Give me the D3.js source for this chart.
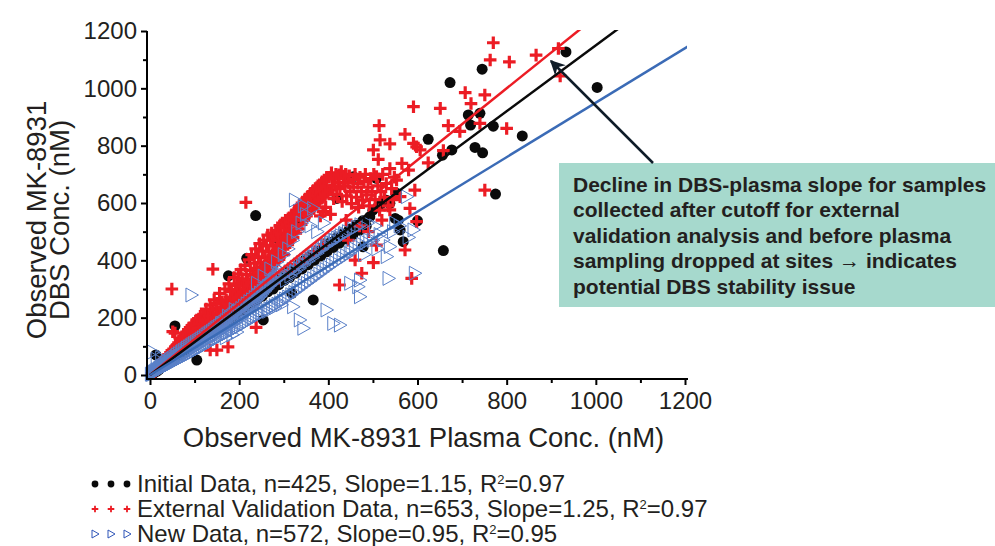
<!DOCTYPE html>
<meta charset="utf-8">
<script src="https://d3js.org/d3.v7.min.js"></script>
<style>
  body { margin: 0; background: #fff; }
  text { font-family: "Liberation Sans", Arial, sans-serif; fill: #231f20; }
</style>
<body>
<div id="chart"></div>
<script>

// observed plasma (x) vs DBS (y) concentrations, nM
var initialData = [
  [4,7],[7,5],[9,12],[11,10],[13,70],[14,18],[16,14],[18,24],[20,19],[23,30],[25,26],[27,35],[30,31],
  [32,41],[35,37],[37,46],[40,42],[43,52],[45,50],[48,60],[51,55],[53,66],[56,171],[58,62],[60,74],
  [63,68],[66,80],[69,76],[72,88],[75,82],[78,95],[82,90],[85,102],[88,96],[92,110],[95,105],[99,118],
  [105,52],[103,112],[107,128],[111,122],[115,138],[119,130],[123,148],[127,140],[131,158],[135,148],
  [140,168],[144,158],[149,178],[153,168],[158,190],[163,178],[168,200],[173,190],[176,346],[178,212],
  [183,200],[188,225],[194,212],[199,238],[205,225],[210,250],[216,238],[217,407],[222,262],[228,250],
  [234,278],[237,556],[240,262],[246,290],[252,275],[254,192],[258,305],[264,290],[270,318],[276,300],
  [282,332],[288,474],[289,315],[295,345],[301,330],[307,358],[313,340],[318,285],[320,372],[327,544],
  [327,355],[333,541],[334,388],[341,370],[348,402],[355,385],[362,418],[366,262],[369,400],[376,432],
  [383,415],[390,448],[397,430],[404,462],[411,445],[419,616],[418,478],[425,460],[432,492],[440,475],
  [447,508],[456,692],[455,490],[462,522],[470,505],[478,447],[477,538],[485,520],[493,552],[500,575],
  [508,686],[512,588],[520,600],[530,610],[538,599],[550,546],[553,634],[557,540],[561,506],[568,465],
  [600,538],[624,822],[656,767],[658,434],[673,1020],[677,785],[714,907],[719,872],[729,794],[740,913],
  [745,1067],[746,775],[770,868],[775,631],[835,834],[933,1127],[1003,1003]
];

var validationData = [
  [3,5],[6,10],[7,7],[9,14],[11,12],[12,20],[14,18],[16,25],[17,20],[19,30],[21,26],[23,38],[24,29],
  [26,42],[27,33],[29,50],[31,38],[33,55],[34,42],[36,48],[37,62],[39,45],[41,70],[43,52],[44,64],
  [46,78],[47,56],[49,85],[51,62],[53,90],[54,70],[56,75],[57,98],[59,72],[61,105],[63,80],[64,112],
  [66,86],[68,120],[70,90],[71,128],[73,95],[75,135],[77,100],[79,142],[80,108],[82,150],[84,112],
  [86,158],[88,118],[90,165],[92,125],[94,172],[96,130],[98,180],[99,138],[49,300],[51,151],[56,146],
  [101,128],[102,175],[104,150],[105,192],[107,138],[108,162],[110,180],[111,142],[113,205],[114,152],
  [116,188],[117,140],[119,168],[120,212],[122,150],[123,190],[125,160],[126,230],[128,182],[129,152],
  [131,205],[132,172],[134,165],[135,244],[137,190],[138,205],[140,160],[141,226],[143,182],[144,262],
  [146,170],[147,200],[149,232],[150,250],[152,178],[153,214],[155,200],[156,285],[158,188],[159,238],
  [161,212],[162,255],[164,195],[165,232],[167,222],[168,300],[170,205],[171,262],[173,230],[174,248],
  [176,212],[177,318],[179,240],[180,272],[182,222],[183,292],[185,250],[186,270],[188,232],[189,340],
  [191,262],[192,298],[194,240],[195,312],[197,270],[198,352],[141,369],[150,87],[175,98],[135,87],
  [200,250],[201,320],[203,282],[204,368],[206,258],[207,335],[209,290],[210,310],[212,265],[213,382],
  [215,300],[216,350],[218,275],[219,332],[221,312],[222,402],[224,285],[225,365],[227,322],[228,420],
  [230,295],[231,348],[233,335],[234,390],[236,305],[237,440],[239,345],[240,372],[242,318],[243,410],
  [245,358],[246,458],[248,328],[249,392],[251,370],[252,432],[254,340],[255,470],[257,380],[258,412],
  [260,350],[261,450],[263,392],[264,488],[266,362],[267,430],[269,405],[270,470],[272,372],[273,495],
  [275,418],[276,452],[278,385],[279,485],[281,430],[282,505],[284,398],[285,470],[287,442],[288,495],
  [290,410],[291,520],[293,455],[294,490],[296,422],[297,530],[299,468],[215,602],[238,166],
  [210,240],[230,268],[250,292],[270,315],[290,338],[310,362],[330,385],[350,405],[370,430],[390,455],
  [300,420],[301,515],[303,445],[304,540],[305,480],[307,525],[309,455],[310,545],[311,505],[313,535],
  [315,470],[316,520],[317,555],[319,545],[321,480],[322,540],[323,565],[325,560],[327,495],[328,552],
  [329,575],[331,570],[333,510],[334,560],[335,590],[337,580],[339,525],[340,575],[341,600],[343,590],
  [345,540],[346,585],[347,610],[349,600],[351,555],[352,595],[353,620],[355,610],[357,565],[358,605],
  [359,630],[361,620],[363,580],[364,615],[365,640],[367,630],[369,590],[370,625],[371,650],[373,640],
  [375,600],[376,635],[377,660],[379,650],[381,612],[382,555],[383,640],[385,670],[387,620],[388,570],
  [389,650],[391,680],[393,630],[394,585],[395,660],[397,690],[399,640],
  [402,690],[404,645],[407,705],[409,660],[412,615],[414,685],[417,700],[419,630],[422,672],[424,698],
  [426,650],[429,710],[431,605],[434,685],[437,660],[439,700],[441,625],[444,672],[447,695],[449,640],
  [452,598],[455,682],[457,655],[460,700],[463,620],[466,668],[468,585],[471,690],[474,640],[477,610],
  [480,675],[483,700],[486,628],[489,655],[492,590],[495,685],[498,640],[502,700],[505,612],[508,692],
  [511,660],[515,575],[518,640],[522,700],[526,620],[530,668],[534,590],[538,720],[542,650],[548,690],
  [553,680],[545,612],
  [425,314],[460,401],[475,355],[501,392],[508,453],[572,436],[587,337],[583,581],[594,645],[598,535],
  [538,576],[561,622],[405,560],[440,540],[470,520],[490,500],[520,540],[445,470],
  [501,785],[512,752],[514,870],[516,820],[538,806],[565,738],[572,840],[580,715],[591,936],[591,808],
  [598,796],[606,785],[624,740],[651,930],[658,783],[669,870],[695,850],[707,985],[720,947],[740,878],
  [751,977],[751,645],[763,1099],[770,1159],[800,860],[806,1092],[866,1116],[916,1139],[920,1043]
];

var newData = [
  [2,3],[4,2],[5,6],[6,4],[7,80],[8,9],[9,6],[10,12],[11,9],[12,9],[13,15],[14,11],[15,55],[16,18],
  [17,13],[18,16],[19,20],[20,15],[21,24],[22,20],[23,18],[24,28],[25,60],[26,21],[27,31],[28,26],
  [29,23],[30,34],[31,29],[32,26],[33,38],[34,31],[35,29],[36,42],[37,34],[38,31],[39,45],[40,37],
  [41,34],[42,48],[43,40],[44,36],[45,52],[46,43],[47,38],[48,55],[49,46],[50,41],[51,58],[52,49],
  [53,44],[55,62],[56,46],[57,54],[58,65],[60,49],[61,70],[62,58],[63,52],[65,74],[66,62],[67,55],
  [69,78],[70,66],[71,58],[72,82],[73,70],[74,61],[76,86],[77,72],[78,64],[80,90],[81,76],[82,67],
  [83,94],[84,80],[85,70],[87,98],[88,83],[89,73],[91,102],[92,87],[93,279],[93,76],[95,106],[96,90],
  [97,80],[99,110],
  [100,95],[101,83],[103,114],[104,98],[105,86],[107,118],[108,102],[109,90],[111,122],[112,106],
  [113,93],[115,126],[116,110],[117,96],[119,130],[120,114],[121,100],[123,135],[124,118],[125,104],
  [127,140],[128,122],[129,108],[131,144],[132,126],[133,111],[135,148],[136,130],[137,115],[139,152],
  [140,134],[141,118],[143,157],[144,138],[145,121],[147,162],[148,142],[149,125],[151,166],[152,146],
  [153,128],[155,170],[156,150],[157,132],[159,175],[160,154],[161,135],[163,180],[164,158],[165,138],
  [167,185],[168,162],[169,142],[171,190],[172,166],[173,145],[175,195],[176,170],[177,148],[179,200],
  [180,174],[181,152],[183,205],[184,178],[185,155],[187,210],[188,182],[189,158],[191,215],[192,186],
  [193,162],[195,220],[196,190],[197,165],[199,225],[160,180],[175,205],[190,228],[170,130],[185,140],
  [195,150],
  [202,170],[203,198],[205,232],[206,205],[208,176],[209,210],[211,240],[212,215],[214,181],[215,220],
  [217,248],[218,225],[220,186],[221,230],[223,256],[224,236],[226,192],[227,240],[229,262],[230,246],
  [232,197],[233,250],[235,270],[236,256],[238,203],[239,262],[241,278],[242,266],[244,208],[245,272],
  [247,286],[248,276],[250,214],[251,282],[253,292],[254,288],[256,220],[257,292],[259,300],[260,298],
  [262,225],[263,302],[265,308],[266,310],[268,231],[269,312],[271,315],[272,318],[274,236],[275,325],
  [277,322],[278,330],[280,242],[281,335],[283,330],[284,340],[286,247],[287,345],[289,338],[290,352],
  [292,252],[293,355],[295,345],[296,362],[298,258],[240,320],[255,345],[270,370],[285,395],[300,420],
  [230,200],[250,215],[265,222],[280,235],[295,245],
  [303,265],[305,330],[306,352],[310,272],[313,360],[315,345],[317,280],[321,238],[320,368],[324,288],
  [325,360],[327,376],[331,296],[334,384],[335,372],[336,192],[338,304],[341,392],[344,163],[345,312],
  [345,385],[348,400],[352,320],[355,408],[355,398],[359,328],[362,416],[365,410],[366,581],[366,336],
  [369,424],[373,344],[375,425],[376,432],[380,352],[383,440],[385,438],[387,360],[390,448],[394,368],
  [395,450],[396,227],[397,456],[401,376],[404,464],[405,460],[408,384],[411,180],[412,470],[415,470],
  [416,392],[420,478],[424,400],[425,480],[426,174],[428,486],[432,408],[435,490],[436,494],[440,416],
  [444,500],[448,424],[310,440],[320,470],[330,500],[340,530],[350,560],[325,610],[345,590],[360,520],
  [375,500],[390,530],
  [449,320],[452,432],[456,508],[460,440],[464,516],[467,308],[468,448],[471,273],[471,331],[472,524],
  [476,456],[480,420],[484,464],[488,530],[492,470],[500,470],[505,520],[510,440],[515,490],[523,471],
  [531,413],[535,337],[538,448],[545,500],[550,530],[560,520],[576,622],[580,480],[591,506],[594,355]
];

var slopes = [1.25, 1.15, 0.95];          // validation, initial, new
var xTicks = [0, 200, 400, 600, 800, 1000, 1200];
var yTicks = [0, 200, 400, 600, 800, 1000, 1200];
var minorTicks = [100, 300, 500, 700, 900, 1100];
var legendLabels = [
  ["Initial Data, n=425, Slope=1.15, R", "=0.97"],
  ["External Validation Data, n=653, Slope=1.25, R", "=0.97"],
  ["New Data, n=572, Slope=0.95, R", "=0.95"]
];
var noteLines = [
  "Decline in DBS-plasma slope for samples",
  "collected after cutoff for external",
  "validation analysis and before plasma",
  "sampling dropped at sites \u2192 indicates",
  "potential DBS stability issue"
];

var width = 995, height = 546;
var red = "#ec1c24", black = "#0a0a0a", blue = "#3b6bb6", triBlue = "#5a80c8";

var svg = d3.select("#chart").append("svg")
    .attr("width", width)
    .attr("height", height);

var x = d3.scaleLinear().domain([0, 1200]).range([150, 685]);
var y = d3.scaleLinear().domain([0, 1200]).range([375, 31]);
var axisX = 147, axisY = 379;

svg.append("clipPath").attr("id", "plot")
  .append("rect")
    .attr("x", axisX).attr("y", y(1200) - 1)
    .attr("width", x(1200) - axisX + 2).attr("height", axisY - y(1200) + 1);

// points: black under red under blue
var pts = svg.append("g");

pts.selectAll(".dot")
  .data(initialData)
  .enter()
  .append("circle")
    .attr("cx", function(d) { return x(d[0]); })
    .attr("cy", function(d) { return y(d[1]); })
    .attr("r", 5.5)
    .attr("fill", black);

var cross = "M-6.3,0H6.3M0,-6.3V6.3";
pts.selectAll(".cross")
  .data(validationData)
  .enter()
  .append("path")
    .attr("d", cross)
    .attr("transform", function(d) { return "translate(" + x(d[0]) + "," + y(d[1]) + ")"; })
    .attr("stroke", red)
    .attr("stroke-width", 3.2)
    .attr("fill", "none");

var tri = "M-5.5,-7L7,0L-5.5,7Z";
pts.selectAll(".tri")
  .data(newData)
  .enter()
  .append("path")
    .attr("d", tri)
    .attr("transform", function(d) { return "translate(" + x(d[0]) + "," + y(d[1]) + ")"; })
    .attr("stroke", triBlue)
    .attr("stroke-width", 1)
    .attr("fill", "none");

// regression lines through the origin
var lineColors = [red, black, blue];
svg.append("g").attr("clip-path", "url(#plot)")
  .selectAll("line")
  .data(slopes)
  .enter()
  .append("line")
    .attr("x1", x(0)).attr("y1", y(0))
    .attr("x2", function(s) { return x(1300); })
    .attr("y2", function(s) { return y(1300 * s); })
    .attr("stroke", function(s, i) { return lineColors[i]; })
    .attr("stroke-width", 2.5);

// axes
var gy = svg.append("g").attr("transform", "translate(" + axisX + ",0)");
gy.call(d3.axisLeft(y).tickValues(yTicks).tickSize(6).tickPadding(4).tickFormat(d3.format("d")));
gy.append("g").call(d3.axisLeft(y).tickValues(minorTicks).tickSize(4).tickFormat(""))
  .select(".domain").remove();
gy.selectAll(".domain").remove();
gy.append("line").attr("x1", 0).attr("x2", 0).attr("y1", y(1200)).attr("y2", axisY + 1)
  .attr("stroke", "#000").attr("stroke-width", 2);

var gx = svg.append("g").attr("transform", "translate(0," + axisY + ")");
gx.call(d3.axisBottom(x).tickValues(xTicks).tickSize(6).tickPadding(6).tickFormat(d3.format("d")));
gx.append("g").call(d3.axisBottom(x).tickValues(minorTicks).tickSize(4).tickFormat(""))
  .select(".domain").remove();
gx.selectAll(".domain").remove();
gx.append("line").attr("x1", axisX - 1).attr("x2", x(1200) + 3).attr("y1", 0).attr("y2", 0)
  .attr("stroke", "#000").attr("stroke-width", 2);

svg.selectAll(".tick line").attr("stroke", "#000").attr("stroke-width", 2);
svg.selectAll(".tick text")
  .style("font-family", "'Liberation Sans', Arial, sans-serif")
  .style("font-size", "24px")
  .attr("fill", "#231f20");
gy.selectAll(".tick text").attr("x", -10);
gx.selectAll(".tick text").attr("y", 13);

// axis titles
svg.append("text")
  .attr("x", (x(0) + x(1200)) / 2 + 6)
  .attr("y", 447)
  .attr("text-anchor", "middle")
  .style("font-size", "27.5px")
  .text("Observed MK-8931 Plasma Conc. (nM)");

var yt = svg.append("text")
  .attr("transform", "translate(46,220)rotate(-90)")
  .attr("text-anchor", "middle")
  .style("font-size", "27.5px");
yt.append("tspan").attr("x", 0).attr("y", 0).text("Observed MK-8931");
yt.append("tspan").attr("x", 0).attr("y", 23).text("DBS Conc. (nM)");

// legend
var leg = svg.append("g");
var legY = [484, 509, 534];
var legX = [95, 111, 127];
legendLabels.forEach(function(lab, i) {
  var row = leg.append("g").attr("transform", "translate(0," + legY[i] + ")");
  legX.forEach(function(lx) {
    if (i === 0) {
      row.append("circle").attr("cx", lx).attr("cy", 0).attr("r", 3.4).attr("fill", black);
    } else if (i === 1) {
      row.append("path").attr("d", "M-3.3,0H3.3M0,-3.3V3.3")
        .attr("transform", "translate(" + lx + ",0)")
        .attr("stroke", red).attr("stroke-width", 1.8);
    } else {
      row.append("path").attr("d", "M-3,-4L4,0L-3,4Z")
        .attr("transform", "translate(" + lx + ",0)")
        .attr("stroke", "#2f55b8").attr("stroke-width", 1).attr("fill", "none");
    }
  });
  var t = row.append("text").attr("x", 137).attr("y", 8).style("font-size", "24px");
  t.append("tspan").text(lab[0]);
  t.append("tspan").attr("dy", -8).style("font-size", "13px").text("2");
  t.append("tspan").attr("dy", 8).text(lab[1]);
});

// annotation
svg.append("rect")
  .attr("x", 559).attr("y", 163)
  .attr("width", 436).attr("height", 144)
  .attr("fill", "#a6d9cd");

svg.append("defs").append("marker")
    .attr("id", "head")
    .attr("viewBox", "0 0 10 10")
    .attr("refX", 9).attr("refY", 5)
    .attr("markerWidth", 8).attr("markerHeight", 6)
    .attr("markerUnits", "strokeWidth")
    .attr("orient", "auto")
  .append("path")
    .attr("d", "M0,0L10,5L0,10L3,5Z")
    .attr("fill", "#0f1c28");

svg.append("line")
  .attr("x1", 653).attr("y1", 163)
  .attr("x2", 551).attr("y2", 61)
  .attr("stroke", "#0f1c28")
  .attr("stroke-width", 2.5)
  .attr("marker-end", "url(#head)");

svg.append("g").selectAll("text")
  .data(noteLines)
  .enter()
  .append("text")
    .attr("x", 573)
    .attr("y", function(d, i) { return 192 + i * 25.4; })
    .style("font-size", "21px")
    .style("font-weight", "bold")
    .attr("fill", "#1b2a2a")
    .text(function(d) { return d; });

</script>
</body>
